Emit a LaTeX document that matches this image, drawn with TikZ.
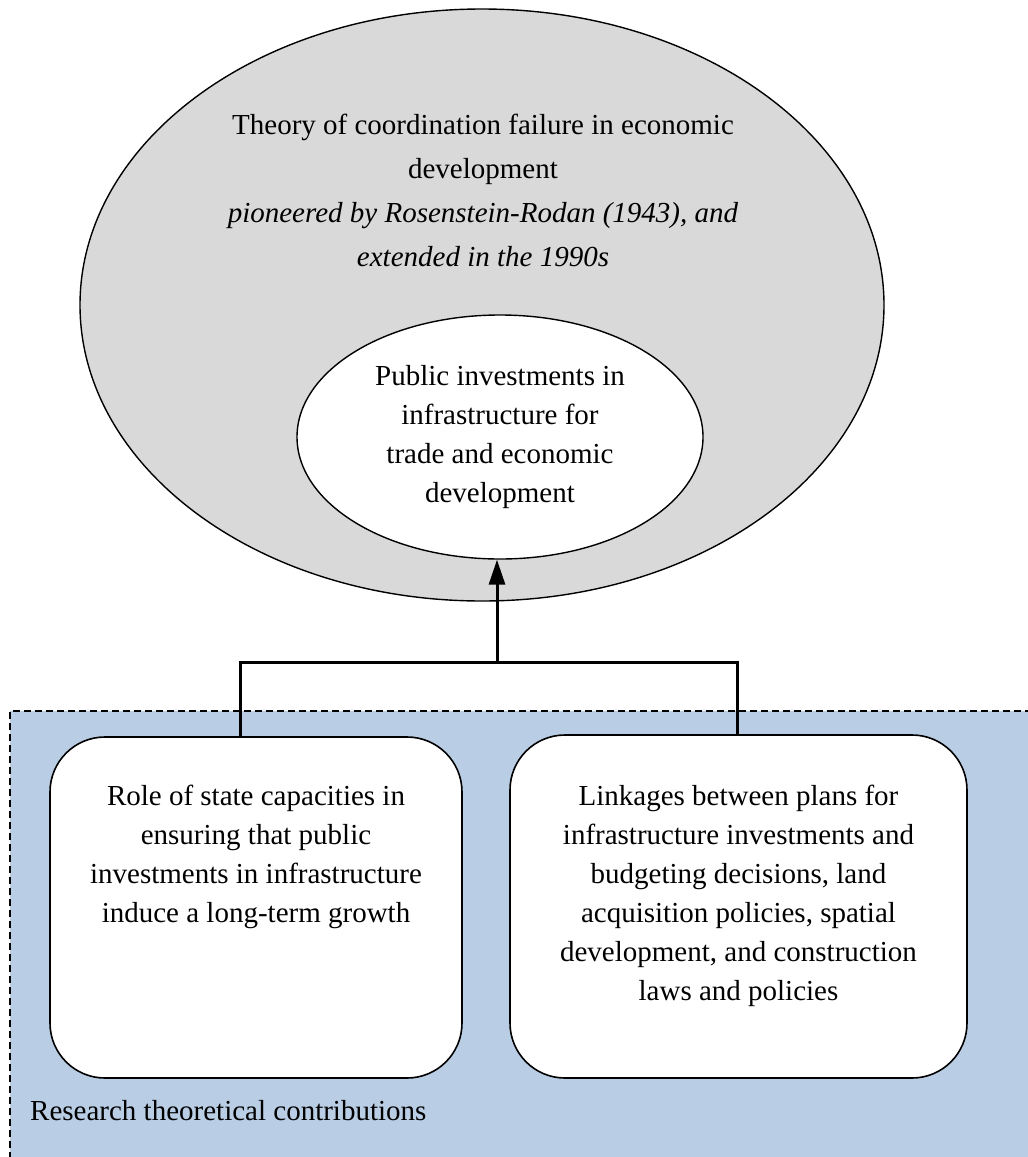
\documentclass[tikz,border=0pt]{standalone}
\usepackage{fontspec}
\setmainfont{Liberation Serif}
\usetikzlibrary{shapes.geometric,arrows.meta}
\definecolor{theorygray}{HTML}{D9D9D9}
\definecolor{contribblue}{HTML}{B9CDE5}
\tikzset{
  bodytext/.style={font=\fontsize{29}{39}\selectfont, align=center, inner sep=0pt},
  headtext/.style={font=\fontsize{29}{44}\selectfont, align=center, inner sep=0pt},
  oval/.style={ellipse, draw=black, line width=1.4pt, inner sep=0pt},
  cardbox/.style={draw=black, line width=1.6pt, fill=white, rounded corners=55pt, inner sep=0pt},
  link/.style={draw=black, line width=3pt},
}
\begin{document}
\begin{tikzpicture}[x=1pt, y=-1pt]
\useasboundingbox (0,0) rectangle (1028,1157);

% contributions panel
\fill[contribblue] (10,711) rectangle (1040,1170);
\draw[dashed, line width=1.2pt, dash pattern=on 7pt off 4pt] (10,1170) -- (10,711) -- (1040,711);

% theory ellipse and the investment ellipse inside it
\node[oval, fill=theorygray, minimum width=804pt, minimum height=592pt] (outer) at (482,305) {};
\node[headtext, anchor=north] (theory) at (483,114)
  {Theory of coordination failure in economic\\development\\
   \textit{pioneered by Rosenstein-Rodan (1943), and}\\\textit{extended in the 1990s}};
\node[oval, fill=white, minimum width=406pt, minimum height=244pt] (inner) at (500,437) {};
\node[bodytext, anchor=north] (innertext) at (500,365)
  {Public investments in\\infrastructure for\\trade and economic\\development};

% contribution cards
\node[cardbox, minimum width=412pt, minimum height=341pt] (lbox) at (256,907.5) {};
\node[bodytext, anchor=north] (ltext) at (256,785)
  {Role of state capacities in\\ensuring that public\\investments in infrastructure\\induce a long-term growth};
\node[cardbox, minimum width=457pt, minimum height=343pt] (rbox) at (738.5,906.5) {};
\node[bodytext, anchor=north] (rtext) at (738.5,785)
  {Linkages between plans for\\infrastructure investments and\\budgeting decisions, land\\acquisition policies, spatial\\development, and construction\\laws and policies};

\node[bodytext, anchor=base west] (panel) at (30,1120) {Research theoretical contributions};

% connectors
\coordinate (lj) at (240,662);
\coordinate (rj) at (737,662);
\coordinate (mj) at (497,662);
\draw[link] (lj |- lbox.north) -- (lj) -- (rj) -- (rj |- rbox.north);
\draw[link, -{Triangle[length=25pt, width=16pt]}] (mj) -- (mj |- inner.south);
\end{tikzpicture}
\end{document}
